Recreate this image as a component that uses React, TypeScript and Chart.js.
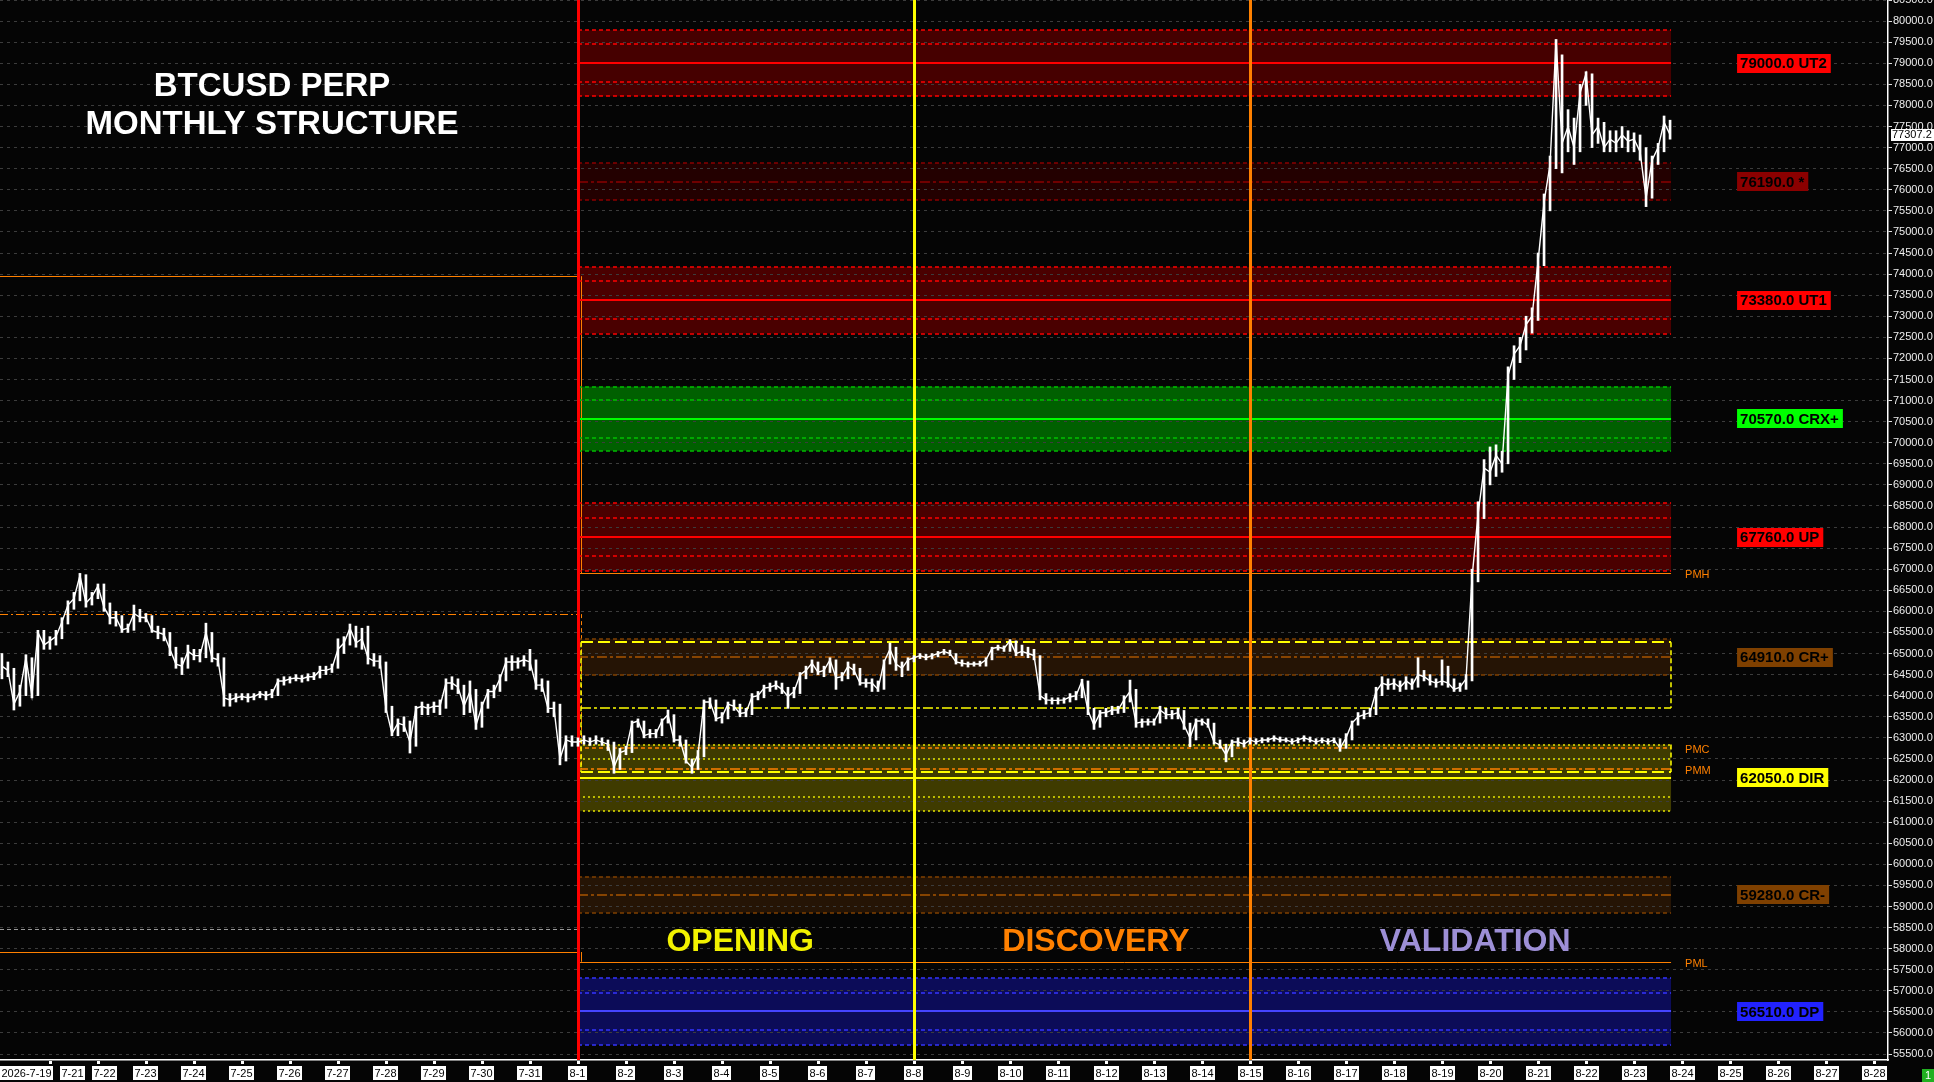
import { useEffect, useRef } from 'react';
import { Chart, registerables } from 'chart.js';

Chart.register(...registerables);

// ---------- axes (x in days counted from 2026-08-01 00:00) ----------
const X_MIN_DAY = -12.04;
const X_MAX_DAY = 27.29;
const Y_MIN = 55359;
const Y_MAX = 80501;

const yTickValues = [
  55500, 56000, 56500, 57000, 57500, 58000, 58500, 59000, 59500, 60000,
  60500, 61000, 61500, 62000, 62500, 63000, 63500, 64000, 64500, 65000,
  65500, 66000, 66500, 67000, 67500, 68000, 68500, 69000, 69500, 70000,
  70500, 71000, 71500, 72000, 72500, 73000, 73500, 74000, 74500, 75000,
  75500, 76000, 76500, 77000, 77500, 78000, 78500, 79000, 79500, 80000, 80500,
];

const dateTickDays = [-13, -11, -10, -9, -8, -7, -6, -5, -4, -3, -2, -1, 0, 1, 2, 3, 4, 5, 6, 7, 8, 9, 10, 11, 12, 13, 14, 15, 16, 17, 18, 19, 20, 21, 22, 23, 24, 25, 26, 27];
const dateTickLabels = ['2026-7-19', '7-21', '7-22', '7-23', '7-24', '7-25', '7-26', '7-27', '7-28', '7-29', '7-30', '7-31', '8-1', '8-2', '8-3', '8-4', '8-5', '8-6', '8-7', '8-8', '8-9', '8-10', '8-11', '8-12', '8-13', '8-14', '8-15', '8-16', '8-17', '8-18', '8-19', '8-20', '8-21', '8-22', '8-23', '8-24', '8-25', '8-26', '8-27', '8-28'];

// ---------- price: 3-hour bars (close / high / low) ----------
const PRICE_START_DAY = -12; // 2026-07-20 00:00
const PRICE_STEP_DAY = 0.125;

const closesJuly = [
  64700, 64600, 63800, 64100, 64900, 64000, 65500, 65200, // 7-20
  65300, 65400, 65750, 66150, 66300, 66850, 66200, 66350, // 7-21
  66600, 66100, 65850, 65850, 65560, 65600, 65950, 65860, // 7-22
  65850, 65550, 65500, 65450, 65100, 64750, 64700, 65050, // 7-23
  64950, 64950, 65500, 64900, 64850, 63950, 63900, 63950, // 7-24
  63980, 63950, 63980, 64050, 64000, 64050, 64350, 64350, // 7-25
  64400, 64420, 64400, 64450, 64450, 64600, 64600, 64650, // 7-26
  65100, 65250, 65600, 65250, 65350, 64900, 64820, 64820, // 7-27
  63700, 63100, 63350, 63300, 62900, 63700, 63750, 63700, // 7-28
  63750, 63750, 64300, 64300, 64200, 63750, 64100, 63300, // 7-29
  63750, 64100, 64100, 64400, 64800, 64800, 64800, 64850, // 7-30
  64800, 64250, 64250, 63700, 63700, 62500, 62950, 62900, // 7-31
];
const highsJuly = [
  65000, 64800, 64650, 64250, 64970, 64900, 65550, 65550,
  65400, 65550, 65850, 66250, 66450, 66900, 66870, 66450,
  66650, 66650, 66200, 66000, 65900, 65700, 66150, 66050,
  65950, 65900, 65650, 65600, 65500, 65150, 64900, 65200,
  65100, 65100, 65720, 65500, 65000, 64900, 64050, 64050,
  64050, 64050, 64050, 64100, 64100, 64150, 64400, 64450,
  64450, 64500, 64480, 64520, 64550, 64700, 64700, 64750,
  65350, 65400, 65700, 65650, 65600, 65650, 65000, 64950,
  64800, 63750, 63450, 63500, 63400, 63750, 63850, 63800,
  63850, 63900, 64400, 64450, 64400, 64250, 64350, 64150,
  63850, 64150, 64250, 64500, 64900, 64950, 64900, 64950,
  65100, 64850, 64400, 64350, 63850, 63800, 63050, 63050,
];
const lowsJuly = [
  64400, 64450, 63660, 63750, 64000, 63950, 64000, 65100,
  65100, 65200, 65350, 65700, 66050, 66250, 66100, 66150,
  66300, 66000, 65700, 65650, 65500, 65500, 65550, 65750,
  65750, 65500, 65350, 65300, 64950, 64650, 64500, 64650,
  64850, 64800, 64900, 64800, 64700, 63750, 63750, 63850,
  63900, 63850, 63900, 63950, 63900, 63950, 64000, 64250,
  64300, 64350, 64320, 64350, 64380, 64420, 64500, 64550,
  64650, 65000, 65200, 65150, 65100, 64750, 64700, 64650,
  63600, 63050, 63050, 63150, 62640, 62800, 63550, 63550,
  63600, 63550, 63700, 64150, 64050, 63550, 63600, 63200,
  63250, 63700, 63950, 64100, 64350, 64600, 64650, 64700,
  64600, 64150, 64100, 63600, 63500, 62360, 62450, 62800,
];

const closesAugust = [
  62900, 62950, 62900, 62950, 62900, 62850, 62300, 62650, // 8-1
  62700, 63350, 63400, 63050, 63100, 63100, 63400, 63550, // 8-2
  62950, 62950, 62450, 62300, 62600, 63850, 63850, 63450, // 8-3
  63500, 63800, 63750, 63580, 63600, 63970, 64000, 64180, // 8-4
  64200, 64250, 64150, 63980, 64100, 64490, 64600, 64770, // 8-5
  64560, 64600, 64850, 64420, 64450, 64700, 64600, 64300, // 8-6
  64300, 64300, 64150, 64800, 65100, 64750, 64650, 64850, // 8-7
  64900, 64950, 64900, 64950, 65000, 65050, 65000, 64800, // 8-8
  64770, 64750, 64750, 64750, 64850, 65120, 65150, 65120, // 8-9
  65300, 65000, 65050, 65000, 64950, 64000, 63900, 63890, // 8-10
  63890, 63900, 63970, 64000, 64350, 63640, 63300, 63590, // 8-11
  63600, 63660, 63660, 63900, 64100, 63350, 63380, 63380, // 8-12
  63380, 63660, 63550, 63550, 63600, 63300, 63000, 63400, // 8-13
  63400, 63300, 62900, 62830, 62600, 62900, 62900, 62850, // 8-14
  62950, 62900, 62950, 62950, 63000, 62950, 62950, 62900, // 8-15
  62950, 63000, 62950, 62900, 62950, 62900, 62950, 62750, // 8-16
  63000, 63350, 63500, 63550, 63600, 64100, 64300, 64250, // 8-17
  64300, 64200, 64350, 64250, 64500, 64450, 64350, 64300, // 8-18
  64350, 64300, 64150, 64200, 64400, 66800, 68300, 69400, // 8-19
  69300, 69700, 69500, 71600, 72100, 72300, 72800, 73000, // 8-20
  74300, 75700, 76600, 79550, 77100, 77500, 77000, 78300, // 8-21
  78750, 77300, 77500, 77000, 77200, 77100, 77300, 77150, // 8-22
  77200, 76900, 75800, 76700, 77000, 77600, 77307.2,      // 8-23
];
const highsAugust = [
  63000, 63050, 63000, 63050, 63000, 62950, 62900, 62750,
  62800, 63400, 63450, 63400, 63200, 63200, 63450, 63660,
  63550, 63050, 62950, 62500, 62700, 63900, 63950, 63900,
  63600, 63850, 63900, 63800, 63700, 64050, 64100, 64250,
  64300, 64350, 64300, 64200, 64200, 64550, 64700, 64850,
  64800, 64700, 64900, 64850, 64550, 64800, 64750, 64650,
  64400, 64400, 64350, 64850, 65250, 65150, 64800, 64900,
  64950, 65000, 64980, 65000, 65050, 65100, 65080, 65000,
  64850, 64800, 64800, 64820, 64900, 65150, 65200, 65180,
  65330, 65300, 65200, 65150, 65100, 64950, 64050, 63950,
  63950, 63950, 64050, 64100, 64390, 64350, 63700, 63650,
  63700, 63750, 63750, 64000, 64370, 64150, 63450, 63450,
  63450, 63750, 63700, 63650, 63700, 63650, 63350, 63450,
  63450, 63450, 63350, 62950, 62850, 62950, 63000, 62950,
  63000, 62980, 63000, 63000, 63050, 63020, 63000, 62980,
  63000, 63050, 63020, 62980, 63000, 62980, 63000, 62980,
  63100, 63400, 63600, 63650, 63700, 64200, 64450, 64400,
  64400, 64350, 64450, 64400, 64900, 64600, 64500, 64400,
  64850, 64700, 64400, 64300, 64500, 67000, 68600, 69600,
  69900, 69950, 69800, 71800, 72300, 72500, 73000, 73200,
  74500, 75900, 76800, 79565, 79200, 77900, 77700, 78500,
  78800, 78750, 77700, 77600, 77400, 77400, 77500, 77400,
  77350, 77300, 77000, 76800, 77100, 77750, 77650,
];
const lowsAugust = [
  62800, 62850, 62820, 62850, 62820, 62700, 62160, 62250,
  62600, 62650, 63250, 63000, 63000, 63000, 63050, 63350,
  62900, 62800, 62400, 62160, 62250, 62550, 63700, 63400,
  63350, 63450, 63650, 63500, 63500, 63550, 63900, 63950,
  64100, 64150, 64050, 63700, 63950, 64050, 64400, 64550,
  64500, 64450, 64550, 64150, 64350, 64400, 64500, 64250,
  64200, 64100, 64100, 64150, 64750, 64600, 64450, 64600,
  64800, 64880, 64850, 64870, 64920, 64980, 64950, 64750,
  64700, 64680, 64700, 64700, 64700, 64850, 65080, 65050,
  65050, 64950, 64950, 64900, 64850, 63900, 63800, 63800,
  63800, 63820, 63850, 63900, 63950, 63550, 63200, 63250,
  63500, 63550, 63580, 63600, 63850, 63250, 63250, 63300,
  63300, 63350, 63450, 63450, 63450, 63200, 62790, 62950,
  63300, 63250, 62850, 62750, 62430, 62550, 62800, 62780,
  62850, 62850, 62880, 62900, 62920, 62900, 62900, 62850,
  62880, 62920, 62900, 62850, 62880, 62850, 62880, 62680,
  62750, 62950, 63300, 63450, 63500, 63550, 64000, 64150,
  64150, 64100, 64150, 64150, 64200, 64350, 64250, 64200,
  64250, 64200, 64100, 64100, 64150, 64350, 66700, 68200,
  69000, 69200, 69300, 69500, 71500, 71900, 72200, 72600,
  72900, 74200, 75500, 76500, 76400, 76900, 76600, 76900,
  78000, 77000, 77100, 76900, 76900, 76900, 77000, 76900,
  76900, 76700, 75600, 75800, 76600, 76900, 77200,
];

// ---------- monthly structure levels ----------
const levelValues = [79000, 76190, 73380, 70570, 67760, 64910, 62050, 59280, 56510];
const levelTags = ['UT2', '*', 'UT1', 'CRX+', 'UP', 'CR+', 'DIR', 'CR-', 'DP'];
const levelOuter = [785, 440, 790, 760, 800, 430, 790, 430, 790];
const levelInner = [450, 0, 450, 450, 450, 0, 450, 0, 450];

// previous-month references
const julyRefHigh = 73950;
const julyRefMid = 65935;
const julyRefOther = 58470;
const julyRefLow = 57920;
const pmNames = ['PMH', 'PMC', 'PMM', 'PML'];
const pmValues = [66900, 62750, 62260, 57690];

// opening range box
const openingRange = [65270, 63710, 62190];

// phases
const phaseStartDays = [0, 7, 14];
const phaseNames = ['OPENING', 'DISCOVERY', 'VALIDATION'];
const phaseLabelDays = [3.38, 10.79, 18.69];
const phaseLabelValue = 58150;

const titleLines = ['BTCUSD PERP', 'MONTHLY STRUCTURE'];

// ---------- styles ----------
const levelFill = ['#460000', '#230000', '#4a0000', '#006000', '#4a0000', '#251405', '#3f3b00', '#251405', '#0c0c58'];
const levelEdge = ['#ff0000', '#8a0000', '#ff0000', '#00c000', '#ff0000', '#804000', '#e8e800', '#804000', '#3535ff'];
const levelCenter = ['#ff0000', '#8b0000', '#ff0000', '#00ff00', '#ff0000', '#a85400', '#ffff00', '#a85400', '#4545ff'];
const levelSolid = [true, false, true, true, true, false, true, false, true];
const levelBox = ['#ff0000', '#8b0000', '#ff0000', '#00ff00', '#ff0000', '#7f4000', '#ffff00', '#7f4000', '#2222ff'];
const phaseLineColors = ['#ff0000', '#ffff00', '#ff8000'];
const phaseTextColors = ['#f2f200', '#ff8000', '#9d8fd6'];
const ORANGE = '#ff8000';
const FONT = '"Liberation Sans", Arial, sans-serif';

function hline(ctx: CanvasRenderingContext2D, xa: number, xb: number, y: number, color: string, width: number, dash: number[]) {
  const yy = width % 2 === 1 ? Math.round(y) + 0.5 : Math.round(y);
  ctx.beginPath();
  ctx.setLineDash(dash);
  ctx.strokeStyle = color;
  ctx.lineWidth = width;
  ctx.moveTo(xa, yy);
  ctx.lineTo(xb, yy);
  ctx.stroke();
}
function vline(ctx: CanvasRenderingContext2D, x: number, ya: number, yb: number, color: string, width: number, dash: number[]) {
  const xx = width % 2 === 1 ? Math.round(x) + 0.5 : Math.round(x);
  ctx.beginPath();
  ctx.setLineDash(dash);
  ctx.strokeStyle = color;
  ctx.lineWidth = width;
  ctx.moveTo(xx, ya);
  ctx.lineTo(xx, yb);
  ctx.stroke();
}

const lastDay = PRICE_START_DAY + (closesJuly.length + closesAugust.length - 1) * PRICE_STEP_DAY;

const structurePlugin = {
  id: 'structure',
  beforeDraw(chart: any) {
    const { ctx, chartArea: ca, scales } = chart;
    const x = scales.x;
    const y = scales.y;
    ctx.save();
    ctx.beginPath();
    ctx.rect(ca.left, ca.top, ca.right - ca.left, ca.bottom - ca.top);
    ctx.clip();
    const x0 = x.getPixelForValue(phaseStartDays[0]);
    const x1 = x.getPixelForValue(lastDay) + 1;
    levelValues.forEach((v, i) => {
      const yt = y.getPixelForValue(v + levelOuter[i]);
      const yb = y.getPixelForValue(v - levelOuter[i]);
      ctx.fillStyle = levelFill[i];
      ctx.fillRect(x0, yt, x1 - x0, yb - yt);
    });
    ctx.restore();
  },
  beforeDatasetsDraw(chart: any) {
    const { ctx, chartArea: ca, scales } = chart;
    const x = scales.x;
    const y = scales.y;
    ctx.save();
    ctx.beginPath();
    ctx.rect(ca.left, ca.top, ca.right - ca.left, ca.bottom - ca.top);
    ctx.clip();
    const x0 = x.getPixelForValue(phaseStartDays[0]);
    const x1 = x.getPixelForValue(lastDay) + 1;
    const xl = ca.left;

    // left (July) references
    hline(ctx, xl, x0, y.getPixelForValue(julyRefHigh), ORANGE, 1, []);
    hline(ctx, xl, x0, y.getPixelForValue(julyRefMid), ORANGE, 1, [8, 3, 2, 3]);
    hline(ctx, xl, x0, y.getPixelForValue(julyRefOther), '#9a9a9a', 1, [4, 3]);
    hline(ctx, xl, x0, y.getPixelForValue(julyRefLow), ORANGE, 1, []);
    vline(ctx, x0 + 3, y.getPixelForValue(julyRefHigh), y.getPixelForValue(pmValues[0]), ORANGE, 1, []);
    vline(ctx, x0 + 3, y.getPixelForValue(julyRefMid), y.getPixelForValue(pmValues[2]), ORANGE, 1, [4, 3]);
    vline(ctx, x0 + 3, y.getPixelForValue(julyRefLow), y.getPixelForValue(pmValues[3]), ORANGE, 1, []);

    // level bands
    levelValues.forEach((v, i) => {
      const ec = levelEdge[i];
      const dash = i === 6 ? [2, 3] : [4, 3];
      hline(ctx, x0, x1, y.getPixelForValue(v + levelOuter[i]), ec, 1.5, dash);
      hline(ctx, x0, x1, y.getPixelForValue(v - levelOuter[i]), ec, 1.5, dash);
      if (levelInner[i] > 0) {
        hline(ctx, x0, x1, y.getPixelForValue(v + levelInner[i]), ec, 1.5, dash);
        hline(ctx, x0, x1, y.getPixelForValue(v - levelInner[i]), ec, 1.5, dash);
      }
      if (levelSolid[i]) hline(ctx, x0, x1, y.getPixelForValue(v), levelCenter[i], 2, []);
      else hline(ctx, x0, x1, y.getPixelForValue(v), levelCenter[i], 1.5, [10, 3, 3, 3]);
    });

    // previous-month lines in August
    hline(ctx, x0, x1, y.getPixelForValue(pmValues[0]), ORANGE, 1, []);
    hline(ctx, x0, x1, y.getPixelForValue(pmValues[1]), ORANGE, 1.5, [4, 3]);
    hline(ctx, x0, x1, y.getPixelForValue(pmValues[2]), ORANGE, 1.5, [10, 3, 3, 3]);
    hline(ctx, x0, x1, y.getPixelForValue(pmValues[3]), ORANGE, 1, []);

    // opening range box
    const yTop = y.getPixelForValue(openingRange[0]);
    const yMid = y.getPixelForValue(openingRange[1]);
    const yBot = y.getPixelForValue(openingRange[2]);
    hline(ctx, x0 + 3, x1, yTop, '#ffff00', 2, [12, 5]);
    hline(ctx, x0 + 3, x1, yMid, '#ffff00', 1.5, [10, 3, 3, 3]);
    hline(ctx, x0 + 3, x1, yBot, '#ffff00', 2, [12, 5]);
    vline(ctx, x0 + 3, yTop, yBot, '#ffff00', 1.5, [5, 3]);
    vline(ctx, x1, yTop, yMid, '#ffff00', 1.5, [5, 3]);
    vline(ctx, x1, y.getPixelForValue(levelValues[6] + levelOuter[6]), yBot, '#ffff00', 1.5, [5, 3]);

    // phase boundaries
    phaseStartDays.forEach((d, i) => {
      vline(ctx, x.getPixelForValue(d), ca.top, ca.bottom, phaseLineColors[i], 3, []);
    });
    ctx.restore();
  },
  afterDraw(chart: any) {
    const { ctx, chartArea: ca, scales } = chart;
    const x = scales.x;
    const y = scales.y;
    const x1 = x.getPixelForValue(lastDay) + 1;
    ctx.save();
    ctx.setLineDash([]);

    // title
    ctx.fillStyle = '#ffffff';
    ctx.font = `bold 33px ${FONT}`;
    ctx.textAlign = 'center';
    ctx.textBaseline = 'middle';
    ctx.fillText(titleLines[0], 272, 87);
    ctx.fillText(titleLines[1], 272, 125);

    // phase names
    ctx.font = `bold 32px ${FONT}`;
    phaseNames.forEach((n, i) => {
      ctx.fillStyle = phaseTextColors[i];
      ctx.fillText(n, x.getPixelForValue(phaseLabelDays[i]), y.getPixelForValue(phaseLabelValue));
    });

    // level tags
    ctx.font = `bold 15px ${FONT}`;
    ctx.textAlign = 'left';
    levelValues.forEach((v, i) => {
      const t = `${v.toFixed(1)} ${levelTags[i]}`;
      const w = ctx.measureText(t).width + 7;
      const yc = y.getPixelForValue(v);
      const bx = x1 + 66;
      ctx.fillStyle = levelBox[i];
      ctx.fillRect(bx, Math.round(yc - 9.5), w, 19);
      ctx.fillStyle = '#000000';
      ctx.fillText(t, bx + 3, yc + 1);
    });

    // previous-month tags
    ctx.font = `11px ${FONT}`;
    ctx.fillStyle = ORANGE;
    pmNames.forEach((n, i) => {
      ctx.fillText(n, x1 + 14, y.getPixelForValue(pmValues[i]) + 2);
    });

    // date labels
    ctx.font = `11px ${FONT}`;
    ctx.textAlign = 'center';
    let prevRight = -Infinity;
    dateTickDays.forEach((d, i) => {
      const px = x.getPixelForValue(d);
      const label = dateTickLabels[i];
      const w = Math.round(ctx.measureText(label).width + 3);
      let left = Math.round(px - w / 2);
      if (left < 0) left = 0;
      if (left < prevRight + 7) left = prevRight + 7;
      if (left + w > ca.right) return;
      if (px >= ca.left) {
        ctx.fillStyle = '#ffffff';
        ctx.fillRect(Math.round(px) - 1, ca.bottom + 1, 3, 3);
      }
      ctx.fillStyle = '#ffffff';
      ctx.fillRect(left, ca.bottom + 6, w, 14);
      ctx.fillStyle = '#000000';
      ctx.fillText(label, left + w / 2, ca.bottom + 13.5);
      prevRight = left + w;
    });

    // last price tag
    const last = closesAugust[closesAugust.length - 1];
    const yl = y.getPixelForValue(last);
    ctx.fillStyle = '#ffffff';
    ctx.fillRect(ca.right + 3, Math.round(yl - 6), 43, 12);
    ctx.fillStyle = '#000000';
    ctx.textAlign = 'left';
    ctx.fillText(last.toFixed(1), ca.right + 4, yl + 0.5);

    // corner badge
    ctx.fillStyle = '#20b020';
    ctx.fillRect(chart.width - 12, chart.height - 13, 12, 13);
    ctx.fillStyle = '#ffffff';
    ctx.textAlign = 'center';
    ctx.fillText('1', chart.width - 6, chart.height - 6);
    ctx.restore();
  },
};

export default function App() {
  const ref = useRef<HTMLCanvasElement | null>(null);
  useEffect(() => {
    document.body.style.margin = '0';
    document.body.style.background = '#050505';
    const canvas = ref.current;
    if (!canvas) return;
    const closes = [...closesJuly, ...closesAugust];
    const highs = [...highsJuly, ...highsAugust];
    const lows = [...lowsJuly, ...lowsAugust];
    const dayAt = (i: number) => PRICE_START_DAY + i * PRICE_STEP_DAY;
    const closePoints = closes.map((c, i) => ({ x: dayAt(i), y: c }));
    const rangePoints = highs.map((h, i) => ({ x: dayAt(i), y: [lows[i], h] }));
    const chart = new Chart(canvas, {
      type: 'line',
      data: {
        datasets: [
          {
            type: 'line',
            data: closePoints,
            borderColor: '#ffffff',
            borderWidth: 1.4,
            pointRadius: 0,
            tension: 0,
            order: 1,
          },
          {
            type: 'bar',
            data: rangePoints,
            backgroundColor: '#ffffff',
            borderWidth: 0,
            barThickness: 2,
            grouped: false,
            order: 2,
          },
        ],
      },
      options: {
        animation: false,
        responsive: false,
        maintainAspectRatio: false,
        devicePixelRatio: 1,
        layout: { padding: 0 },
        plugins: { legend: { display: false }, tooltip: { enabled: false } },
        scales: {
          x: {
            type: 'linear',
            position: 'bottom',
            min: X_MIN_DAY,
            max: X_MAX_DAY,
            offset: false,
            grid: { display: false, offset: false },
            border: { display: true, color: '#ffffff', width: 1.5 },
            ticks: { display: false },
            afterFit: (s: any) => {
              s.height = 22;
              s.paddingLeft = 0;
              s.paddingRight = 0;
            },
          },
          y: {
            type: 'linear',
            position: 'right',
            min: Y_MIN,
            max: Y_MAX,
            afterBuildTicks: (s: any) => {
              s.ticks = yTickValues.map((v) => ({ value: v }));
            },
            ticks: {
              autoSkip: false,
              color: '#eeeeee',
              padding: 1,
              font: { family: FONT, size: 11 },
              callback: (v: any) => Number(v).toFixed(1),
            },
            grid: { display: true, drawOnChartArea: true, drawTicks: true, color: '#3c3c3c', lineWidth: 1, tickLength: 4, tickColor: '#e0e0e0' },
            border: { display: true, color: '#ffffff', width: 1.5, dash: [3, 4] },
            afterFit: (s: any) => {
              s.width = 46;
              s.paddingTop = 0;
              s.paddingBottom = 0;
            },
          },
        },
      },
      plugins: [structurePlugin],
    } as any);
    return () => chart.destroy();
  }, []);
  return (
    <div style={{ width: 1934, height: 1082, background: '#050505', overflow: 'hidden' }}>
      <canvas ref={ref} width={1934} height={1082} style={{ display: 'block' }} />
    </div>
  );
}
